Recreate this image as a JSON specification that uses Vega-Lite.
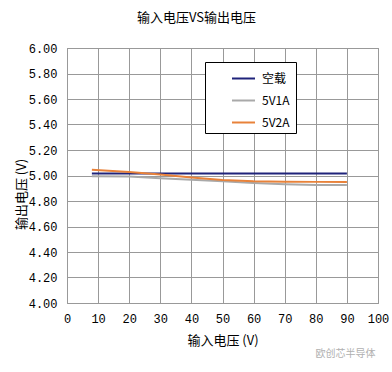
{
  "$schema": "https://vega.github.io/schema/vega-lite/v6.json",
  "width": 311,
  "height": 255,
  "padding": {"left": 67, "top": 48, "right": 14, "bottom": 69},
  "autosize": {"type": "none"},
  "background": "white",
  "title": {"text": "输入电压VS输出电压", "font": "Noto Sans CJK SC", "fontSize": 13, "fontWeight": "normal", "color": "#000", "offset": 17, "dx": -26, "anchor": "middle"},
  "config": {
    "view": {"stroke": "#888", "strokeWidth": 1},
    "axis": {"gridColor": "#999", "gridWidth": 1, "gridOpacity": 1, "domain": false, "ticks": false, "labelFlush": false,
      "labelFont": "Liberation Mono", "labelFontSize": 12, "labelColor": "#000",
      "titleFont": "Noto Sans CJK SC", "titleFontSize": 13, "titleFontWeight": "normal", "titleColor": "#000"}
  },
  "data": {"values": [
    {"v": 8, "s": "空载", "y": 5.015},
    {"v": 20, "s": "空载", "y": 5.015},
    {"v": 30, "s": "空载", "y": 5.015},
    {"v": 40, "s": "空载", "y": 5.015},
    {"v": 50, "s": "空载", "y": 5.015},
    {"v": 60, "s": "空载", "y": 5.015},
    {"v": 70, "s": "空载", "y": 5.015},
    {"v": 80, "s": "空载", "y": 5.015},
    {"v": 90, "s": "空载", "y": 5.015},
    {"v": 8, "s": "5V1A", "y": 4.995},
    {"v": 20, "s": "5V1A", "y": 4.993},
    {"v": 30, "s": "5V1A", "y": 4.978},
    {"v": 40, "s": "5V1A", "y": 4.966},
    {"v": 50, "s": "5V1A", "y": 4.955},
    {"v": 60, "s": "5V1A", "y": 4.942},
    {"v": 70, "s": "5V1A", "y": 4.932},
    {"v": 80, "s": "5V1A", "y": 4.926},
    {"v": 90, "s": "5V1A", "y": 4.925},
    {"v": 8, "s": "5V2A", "y": 5.045},
    {"v": 20, "s": "5V2A", "y": 5.028},
    {"v": 30, "s": "5V2A", "y": 5.008},
    {"v": 40, "s": "5V2A", "y": 4.985},
    {"v": 50, "s": "5V2A", "y": 4.965},
    {"v": 60, "s": "5V2A", "y": 4.955},
    {"v": 70, "s": "5V2A", "y": 4.951},
    {"v": 80, "s": "5V2A", "y": 4.95},
    {"v": 90, "s": "5V2A", "y": 4.95}
  ]},
  "layer": [
    {
      "mark": {"type": "line", "strokeWidth": 2},
      "encoding": {
        "x": {"field": "v", "type": "quantitative", "scale": {"domain": [0, 100], "nice": false},
          "axis": {"values": [0,10,20,30,40,50,60,70,80,90,100], "title": "输入电压 (V)", "labelPadding": 10, "titlePadding": 10}},
        "y": {"field": "y", "type": "quantitative", "scale": {"domain": [4, 6], "nice": false, "zero": false},
          "axis": {"values": [4,4.2,4.4,4.6,4.8,5,5.2,5.4,5.6,5.8,6], "format": ".2f", "labelPadding": 10,
            "title": "输出电压 (V)", "titleX": -39, "titleY": 146, "titleAlign": "center", "titleAngle": -90, "titleBaseline": "bottom"}},
        "color": {"field": "s", "type": "nominal",
          "scale": {"domain": ["空载", "5V1A", "5V2A"], "range": ["#1f237a", "#a9a9a9", "#e8823a"]},
          "legend": {"title": "\u3000", "titleOrient": "right", "titleFontSize": 12, "titlePadding": 2, "orient": "none", "legendX": 138, "legendY": 14,
            "strokeColor": "#000", "fillColor": "#fff", "padding": 4, "rowPadding": 3,
            "symbolType": "stroke", "symbolSize": 529, "symbolStrokeWidth": 2, "symbolOffset": 22, "labelOffset": 6,
            "labelFont": "Noto Sans CJK SC", "labelFontSize": 12, "labelColor": "#000", "labelLimit": 60}}
      }
    },
    {
      "mark": {"type": "point", "opacity": 0},
      "encoding": {
        "x": {"field": "v", "type": "quantitative", "scale": {"domain": [0, 100]},
          "axis": {"orient": "bottom", "title": "欧创芯半导体", "labels": false, "grid": false, "domain": false, "ticks": false,
            "titleAnchor": "end", "titleColor": "#b0b0b0", "titleFontSize": 10, "titleX": 308, "titleY": 45, "titleAlign": "right"}}
      }
    }
  ],
  "resolve": {"scale": {"x": "independent"}, "axis": {"x": "independent"}}
}
